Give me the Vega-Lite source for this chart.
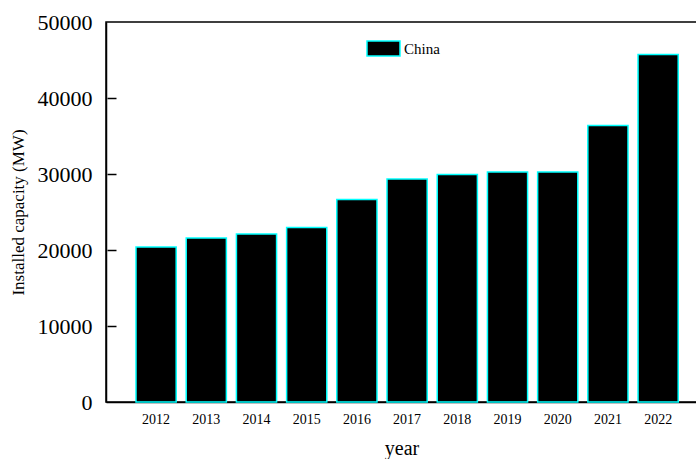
{
  "$schema": "https://vega.github.io/schema/vega-lite/v6.json",
  "autosize": "none",
  "width": 591,
  "height": 380,
  "padding": {"left": 106, "top": 22, "right": 0, "bottom": 57},
  "background": "white",
  "config": {
    "font": "Liberation Serif",
    "view": {"stroke": "black", "strokeWidth": 1.5},
    "axis": {"grid": false, "domainColor": "black", "domainWidth": 1.5, "tickColor": "black", "tickWidth": 1.5, "labelColor": "black", "titleColor": "black", "labelFont": "Liberation Serif", "titleFont": "Liberation Serif", "titleFontWeight": "normal"}
  },
  "data": {
    "values": [
      {"year": "2012", "capacity": 20400, "series": "China"},
      {"year": "2013", "capacity": 21580, "series": "China"},
      {"year": "2014", "capacity": 22100, "series": "China"},
      {"year": "2015", "capacity": 22960, "series": "China"},
      {"year": "2016", "capacity": 26640, "series": "China"},
      {"year": "2017", "capacity": 29340, "series": "China"},
      {"year": "2018", "capacity": 29930, "series": "China"},
      {"year": "2019", "capacity": 30260, "series": "China"},
      {"year": "2020", "capacity": 30260, "series": "China"},
      {"year": "2021", "capacity": 36380, "series": "China"},
      {"year": "2022", "capacity": 45720, "series": "China"}
    ]
  },
  "layer": [
    {
      "mark": {"type": "bar", "stroke": "#00FFFF", "strokeWidth": 1.5},
      "encoding": {
        "x": {
          "field": "year", "type": "nominal",
          "scale": {"paddingInner": 0.2, "paddingOuter": 0.486, "align": 0.615},
          "axis": {"title": "year", "labelAngle": 0, "ticks": false, "labelFontSize": 14, "labelPadding": 10, "titleFontSize": 20, "titlePadding": 12}
        },
        "y": {
          "field": "capacity", "type": "quantitative",
          "scale": {"domain": [0, 50000], "nice": false},
          "axis": {"orient": "left", "title": "Installed capacity (MW)", "format": "d", "values": [0, 10000, 20000, 30000, 40000, 50000], "ticks": false, "labelFontSize": 22, "labelPadding": 14, "titleFontSize": 17, "titlePadding": 10}
        },
        "color": {
          "field": "series", "type": "nominal",
          "scale": {"range": ["black"]},
          "legend": {
            "title": null, "orient": "none", "legendX": 260, "legendY": 9,
            "symbolType": "M-1,-0.45H1V0.45H-1Z", "symbolSize": 1089,
            "symbolStrokeColor": "#00FFFF", "symbolStrokeWidth": 1.5, "symbolFillColor": "black",
            "labelFont": "Liberation Serif", "labelFontSize": 15, "labelColor": "black", "labelOffset": 3
          }
        }
      }
    },
    {
      "mark": {"type": "bar", "opacity": 0},
      "encoding": {
        "x": {"field": "year", "type": "nominal"},
        "y": {
          "field": "capacity", "type": "quantitative",
          "axis": {
            "title": null, "orient": "right", "offset": -590,
            "values": [10000, 20000, 30000, 40000],
            "tickSize": 9, "labels": false, "domain": false
          }
        }
      }
    }
  ],
  "resolve": {"axis": {"y": "independent"}}
}
